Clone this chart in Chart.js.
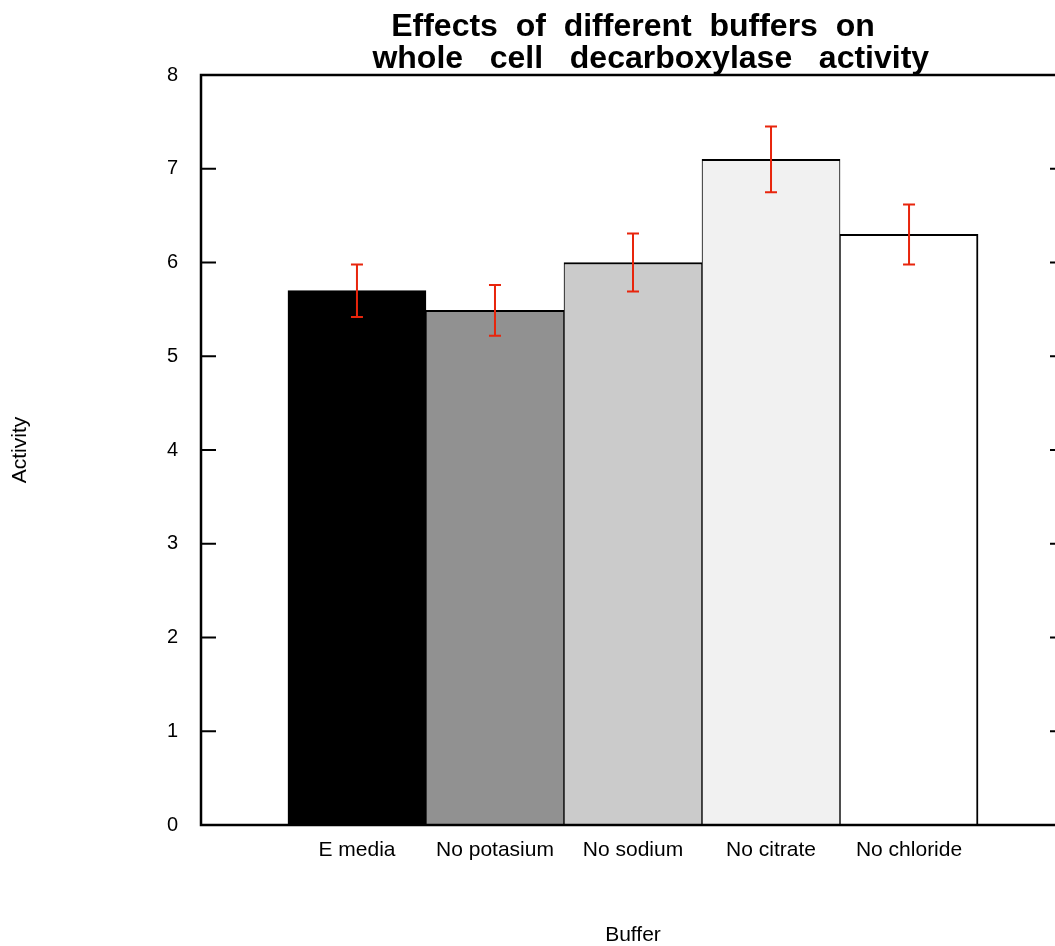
<!DOCTYPE html>
<html>
<head>
<meta charset="utf-8">
<title>Buffer activity</title>
<script src="https://cdn.jsdelivr.net/npm/chart.js@4.4.1/dist/chart.umd.min.js"></script>
<style>
  html, body { margin: 0; padding: 0; background: #fff; overflow: hidden; }
  #wrap { width: 1055px; height: 946px; overflow: hidden; }
  canvas { display: block; }
</style>
</head>
<body>
<div id="wrap"><canvas id="myChart" width="1065" height="946"></canvas></div>
<script>
const buffers = ["E media", "No potasium", "No sodium", "No citrate", "No chloride"];
const activity = [5.7, 5.49, 6.0, 7.1, 6.3];
const activityErr = [0.28, 0.27, 0.31, 0.35, 0.32];
const barColors = ["#000000", "#919191", "#cbcbcb", "#f1f1f1", "#ffffff"];
const yTicks = [0, 1, 2, 3, 4, 5, 6, 7, 8];

const FONT = "'Liberation Sans', Arial, Helvetica, sans-serif";
Chart.defaults.font.family = FONT;
Chart.defaults.color = "#000";

// red error bars, then the plot frame with inward ticks on both sides
const frame = {
  id: "frame",
  afterDatasetsDraw(chart) {
    const { ctx, chartArea: a, scales: { x, y } } = chart;
    ctx.save();
    ctx.strokeStyle = "#e8250c";
    ctx.lineWidth = 2;
    activity.forEach((v, i) => {
      const px = x.getPixelForValue(i);
      const hi = y.getPixelForValue(v + activityErr[i]);
      const lo = y.getPixelForValue(v - activityErr[i]);
      ctx.beginPath();
      ctx.moveTo(px, hi); ctx.lineTo(px, lo);
      ctx.moveTo(px - 6, hi); ctx.lineTo(px + 6, hi);
      ctx.moveTo(px - 6, lo); ctx.lineTo(px + 6, lo);
      ctx.stroke();
    });
    ctx.strokeStyle = "#000";
    ctx.lineWidth = 2.5;
    ctx.strokeRect(a.left, a.top, a.right - a.left, a.bottom - a.top);
    ctx.lineWidth = 2;
    yTicks.forEach((t) => {
      const py = y.getPixelForValue(t);
      ctx.beginPath();
      ctx.moveTo(a.left, py); ctx.lineTo(a.left + 15, py);
      ctx.moveTo(a.right, py); ctx.lineTo(a.right - 15, py);
      ctx.stroke();
    });
    ctx.restore();
  },
};

const data = {
  datasets: [
    {
      data: activity.map((v, i) => ({ x: i, y: v })),
      backgroundColor: barColors,
      borderColor: "#000",
      // neighbouring bars share one 2px edge; the outer edges get full width
      borderWidth: (c) => ({
        top: 2,
        left: c.dataIndex === 0 ? 2 : 1,
        right: c.dataIndex === buffers.length - 1 ? 2 : 1,
        bottom: 0,
      }),
      borderSkipped: false,
      barPercentage: 1,
      categoryPercentage: 1,
    },
  ],
};

const config = {
  type: "bar",
  data,
  options: {
    responsive: false,
    animation: false,
    devicePixelRatio: 1,
    layout: { padding: 0 },
    plugins: {
      legend: { display: false },
      tooltip: { enabled: false },
      title: {
        display: true,
        fullSize: false,
        text: ["Effects  of  different  buffers  on", "    whole   cell   decarboxylase   activity"],
        font: { size: 32, weight: "bold", lineHeight: 1.0 },
        color: "#000",
        padding: { top: 11, bottom: 0 },
      },
    },
    scales: {
      x: {
        type: "linear",
        offset: false,
        min: -1.13,
        max: 5.13,
        grid: { display: false, drawTicks: false, offset: false },
        border: { display: false },
        afterBuildTicks: (axis) => { axis.ticks = buffers.map((_, i) => ({ value: i })); },
        afterFit: (axis) => { axis.height = 121; },
        ticks: {
          autoSkip: false,
          maxRotation: 0,
          padding: 13,
          font: { size: 21 },
          callback: (v) => buffers[v],
        },
        title: { display: true, text: "Buffer", font: { size: 21, lineHeight: 1.0 }, padding: { top: 0, bottom: 0 } },
      },
      y: {
        min: 0,
        max: 8,
        grid: { display: false, drawTicks: false },
        border: { display: false },
        afterFit: (axis) => { axis.width = 201; },
        ticks: { stepSize: 1, padding: 23, font: { size: 20 } },
        title: { display: true, text: "Activity", font: { size: 21, lineHeight: 1.0 }, padding: { top: 10, bottom: 0 } },
      },
    },
  },
  plugins: [frame],
};

const myChart = new Chart(document.getElementById("myChart"), config);
</script>
</body>
</html>
